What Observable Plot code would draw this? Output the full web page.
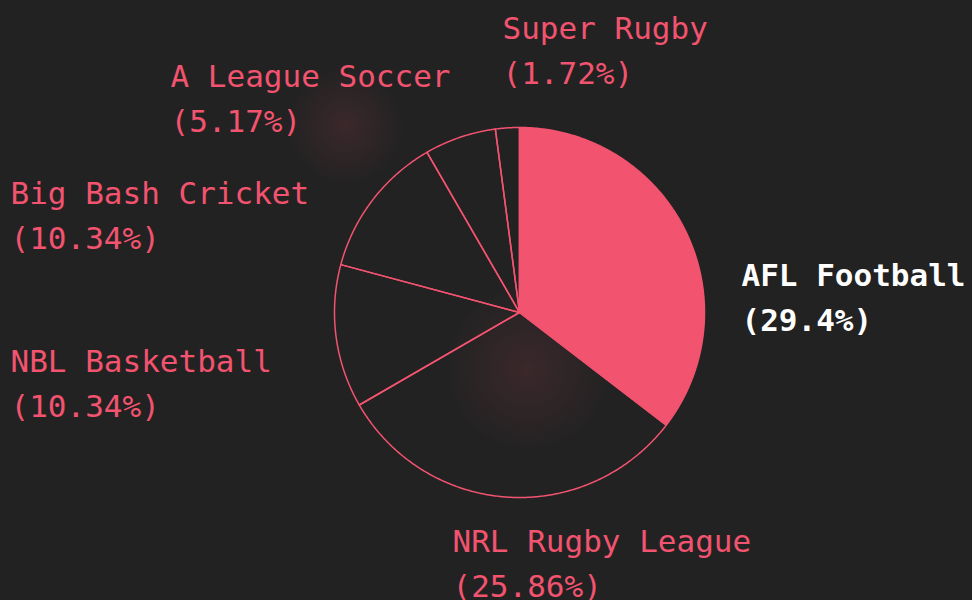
<!DOCTYPE html>
<html>
<head>
<meta charset="utf-8">
<script src="https://cdn.jsdelivr.net/npm/d3@7"></script>
<script src="https://cdn.jsdelivr.net/npm/@observablehq/plot@0.6"></script>
<style>
  html, body { margin: 0; padding: 0; background: #222222; }
  #chart svg { display: block; }
</style>
</head>
<body>
<div id="chart"></div>
<script>
// ---- data ----
const sports = ["AFL Football", "NRL Rugby League", "NBL Basketball", "Big Bash Cricket", "A League Soccer", "Super Rugby"];
const counts = [17, 15, 6, 6, 3, 1];
const shareLabels = ["29.4%", "25.86%", "10.34%", "10.34%", "5.17%", "1.72%"];
const highlighted = "AFL Football";

// ---- layout (pixels relative to pie centre) ----
const W = 972, H = 600;
const cx = 519, cy = 312, R = 185;
const labelLayout = [
  {dx: 222, dy: -58},   // AFL Football
  {dx: -67, dy: 208},   // NRL Rugby League
  {dx: -509, dy: 28},   // NBL Basketball
  {dx: -509, dy: -140}, // Big Bash Cricket
  {dx: -349, dy: -257}, // A League Soccer
  {dx: -17, dy: -305}   // Super Rugby
];
const glows = [{x: -174, y: -187, r: 60}, {x: 8, y: 56, r: 85}];

const pink = "#f2536f";

const arcs = d3.pie().sort(null).value(d => d)(counts);
const slicePts = [];
arcs.forEach((a, i) => {
  slicePts.push({name: sports[i], x: 0, y: 0});
  const n = Math.max(4, Math.ceil((a.endAngle - a.startAngle) / (Math.PI / 360)));
  for (let k = 0; k <= n; k++) {
    const t = a.startAngle + (a.endAngle - a.startAngle) * k / n;
    slicePts.push({name: sports[i], x: R * Math.sin(t), y: -R * Math.cos(t)});
  }
});

const labels = sports.map((s, i) => ({
  name: s,
  text: s + "\n(" + shareLabels[i] + ")",
  x: labelLayout[i].dx,
  y: labelLayout[i].dy
}));

const plot = Plot.plot({
  width: W,
  height: H,
  margin: 0,
  style: {background: "#222222", overflow: "visible"},
  x: {domain: [-cx, W - cx], range: [0, W], axis: null},
  y: {domain: [-cy, H - cy], range: [0, H], axis: null},
  r: {type: "identity"},
  marks: [
    Plot.dot(glows, {x: "x", y: "y", r: "r", fill: "url(#glow)", stroke: "none"}),
    Plot.line(slicePts.filter(d => d.name === highlighted), {
      x: "x", y: "y", z: "name", curve: "linear-closed",
      fill: pink, stroke: pink, strokeWidth: 1.5
    }),
    Plot.line(slicePts.filter(d => d.name !== highlighted), {
      x: "x", y: "y", z: "name", curve: "linear-closed",
      fill: "none", stroke: pink, strokeWidth: 1.5
    }),
    Plot.text(labels.filter(d => d.name !== highlighted), {
      x: "x", y: "y", text: "text", textAnchor: "start", lineAnchor: "top",
      lineHeight: 1.45, fontSize: 31, fontFamily: "DejaVu Sans Mono", fill: pink
    }),
    Plot.text(labels.filter(d => d.name === highlighted), {
      x: "x", y: "y", text: "text", textAnchor: "start", lineAnchor: "top",
      lineHeight: 1.45, fontSize: 31, fontFamily: "DejaVu Sans Mono", fontWeight: "bold", fill: "#ffffff"
    })
  ]
});
plot.setAttribute("font-family", "DejaVu Sans Mono");
plot.style.fontFamily = "DejaVu Sans Mono";
plot.style.fontSize = "31px";

const svg = d3.select(plot);
const defs = svg.insert("defs", ":first-child");
const g = defs.append("radialGradient").attr("id", "glow");
g.append("stop").attr("offset", "0%").attr("stop-color", "#f2536f").attr("stop-opacity", 0.12);
g.append("stop").attr("offset", "100%").attr("stop-color", "#f2536f").attr("stop-opacity", 0);

document.getElementById("chart").appendChild(plot);
</script>
</body>
</html>
